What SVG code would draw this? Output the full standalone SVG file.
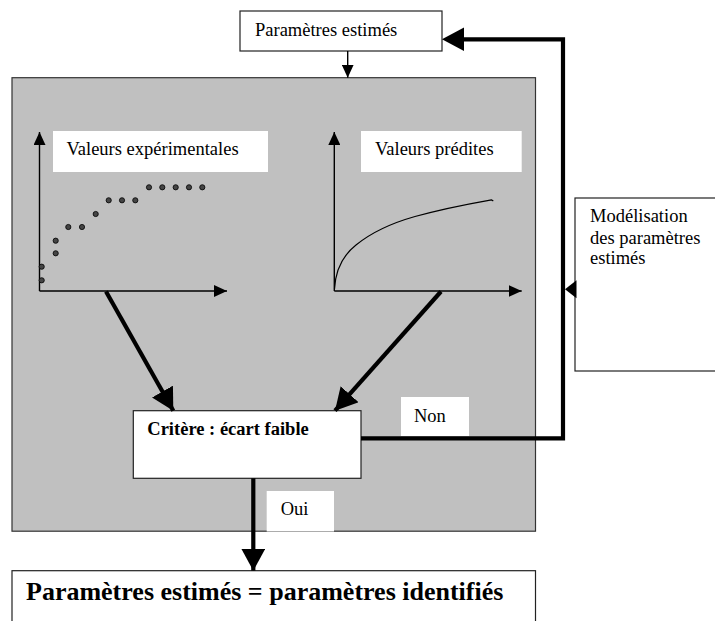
<svg xmlns="http://www.w3.org/2000/svg" width="715" height="621" viewBox="0 0 715 621">
<defs>
<style>
.t{font-family:"Liberation Serif","Times New Roman",serif;font-size:18.5px;fill:#000}
.b{font-weight:bold}
.box{fill:#fff;stroke:#222;stroke-width:1.2}
.lbl{fill:#fff;stroke:none}
.thin{stroke:#000;stroke-width:1.4;fill:none}
.thick{stroke:#000;stroke-width:4.2;fill:none}
.dot{fill:#444;stroke:#000;stroke-width:0.8}
</style>
<marker id="ah" markerWidth="13" markerHeight="12" refX="13" refY="6" orient="auto" markerUnits="userSpaceOnUse">
<path d="M0,0 L13,6 L0,12 Z" fill="#000"/>
</marker>
<marker id="ahb" markerWidth="22" markerHeight="24" refX="22" refY="12" orient="auto" markerUnits="userSpaceOnUse">
<path d="M0,0 L22,12 L0,24 Z" fill="#000"/>
</marker>
</defs>

<g id="processus">
<rect x="12" y="77.7" width="523.5" height="453.5" fill="#c0c0c0" stroke="#333" stroke-width="1.2"/>
</g>

<g id="parametres-estimes">
<rect class="box" x="240" y="11" width="202" height="40"/>
<text class="t" x="255" y="36">Paramètres estimés</text>
</g>

<g id="graphe-experimental">
<rect class="lbl" x="53" y="131" width="215" height="41"/>
<text class="t" x="66.5" y="155">Valeurs expérimentales</text>
<line class="thin" x1="39.5" y1="291" x2="39.5" y2="132" marker-end="url(#ah)"/>
<line class="thin" x1="39.5" y1="291" x2="227" y2="291" marker-end="url(#ah)"/>
<circle class="dot" cx="41.7" cy="280.3" r="2.6"/>
<circle class="dot" cx="41.7" cy="266.7" r="2.6"/>
<circle class="dot" cx="55.7" cy="253.3" r="2.6"/>
<circle class="dot" cx="55.7" cy="240.7" r="2.6"/>
<circle class="dot" cx="68.3" cy="227" r="2.6"/>
<circle class="dot" cx="82" cy="227" r="2.6"/>
<circle class="dot" cx="95.7" cy="214" r="2.6"/>
<circle class="dot" cx="108.7" cy="200.3" r="2.6"/>
<circle class="dot" cx="122" cy="200.3" r="2.6"/>
<circle class="dot" cx="135.3" cy="200.3" r="2.6"/>
<circle class="dot" cx="149" cy="187.3" r="2.6"/>
<circle class="dot" cx="162.3" cy="187.3" r="2.6"/>
<circle class="dot" cx="175.7" cy="187.3" r="2.6"/>
<circle class="dot" cx="189" cy="187.3" r="2.6"/>
<circle class="dot" cx="202.3" cy="187.3" r="2.6"/>
</g>

<g id="graphe-predit">
<rect class="lbl" x="361" y="131" width="160.7" height="41"/>
<text class="t" x="375" y="155">Valeurs prédites</text>
<line class="thin" x1="334.3" y1="291" x2="334.3" y2="132" marker-end="url(#ah)"/>
<line class="thin" x1="334.3" y1="291" x2="521.7" y2="291" marker-end="url(#ah)"/>
<path d="M334.5,289 C335.5,270 342,256 356,245 C372,232 392,223 415,216.5 C440,209.5 465,204.5 491.5,199.8 l1.8,1.3" stroke="#000" stroke-width="1.2" fill="none"/>
</g>

<g id="modelisation">
<rect class="box" x="575" y="198" width="150" height="173"/>
<text class="t" x="590" y="222">Modélisation</text>
<text class="t" x="590" y="243.5">des paramètres</text>
<text class="t" x="590" y="264">estimés</text>
</g>

<g id="critere">
<rect class="box" x="133.3" y="410.7" width="227.7" height="67.6"/>
<text class="t b" x="147.3" y="435">Critère : écart faible</text>
</g>

<g id="resultat">
<rect class="box" x="12" y="570.7" width="523.5" height="70"/>
<text class="t b" x="26" y="600" style="font-size:26px">Paramètres estimés = paramètres identifiés</text>
</g>

<g id="connecteurs">
<line class="thin" x1="347.7" y1="51" x2="347.7" y2="77.7" marker-end="url(#ah)"/>
<line class="thick" x1="106" y1="291.5" x2="173.3" y2="410.7" marker-end="url(#ahb)"/>
<line class="thick" x1="441" y1="291.5" x2="335" y2="410.7" marker-end="url(#ahb)"/>
<rect class="lbl" x="401" y="397" width="68" height="39"/>
<text class="t" x="414" y="422">Non</text>
<polyline class="thick" points="361,438.4 563,438.4 563,39.3 463,39.3"/>
<path d="M442,39.3 L464,27.6 L464,51 Z" fill="#000"/>
<path d="M565,289.2 L576.5,280.2 L576.5,298.2 Z" fill="#000"/>
<rect class="lbl" x="266.7" y="491" width="67.3" height="40.5"/>
<text class="t" x="280.7" y="515">Oui</text>
<line class="thick" x1="253.3" y1="478.3" x2="253.3" y2="570.7" marker-end="url(#ahb)"/>
</g>
</svg>
